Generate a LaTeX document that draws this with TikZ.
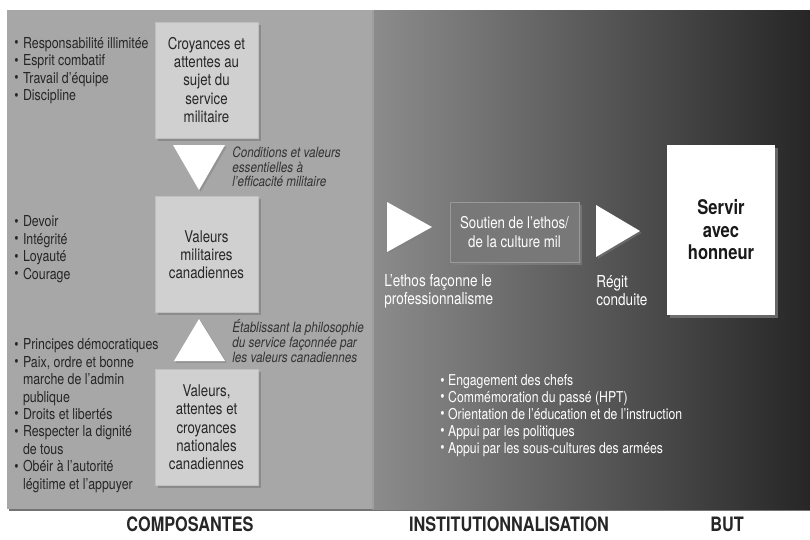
\documentclass[tikz,border=0pt]{standalone}
\usepackage{fontspec}
\setmainfont{TeX Gyre Heros}[FakeStretch=0.82]
\usetikzlibrary{positioning,shadows}

\definecolor{panelgris}{HTML}{A7A7A7}
\definecolor{boitegris}{HTML}{D0D0D0}
\definecolor{soutiengris}{HTML}{787878}
\definecolor{moyengris}{HTML}{8C8C8C}
\definecolor{foncegris}{HTML}{262626}

\newcommand\puce{\raisebox{0.3pt}{\fontsize{8.5}{8.5}\selectfont\textbullet}}

\tikzset{
    boite/.style={draw=white!75!black, fill=boitegris, minimum width=2.06cm, minimum height=2.32cm,
        inner sep=1pt, align=center, text=black!85, font=\fontsize{9.2}{10.4}\selectfont,
        drop shadow={shadow xshift=1.5pt, shadow yshift=-1.5pt, opacity=0.7}},
    puces/.style={anchor=west, inner sep=0pt, align=left, text=black!85, font=\fontsize{8.6}{9.9}\selectfont},
    note/.style={anchor=west, inner sep=0pt, align=left, text=black!80, font=\fontsize{8.1}{8.3}\selectfont\itshape},
    blanc/.style={anchor=west, inner sep=0pt, align=left, text=white, font=\fontsize{9.4}{10.2}\selectfont},
    fleche/.style={fill=white, drop shadow={shadow xshift=1pt, shadow yshift=-1pt, opacity=0.5}},
    titre/.style={font=\fontsize{11.3}{13}\selectfont\bfseries, text=black!85}
}

\begin{document}
\begin{tikzpicture}[x=0.02cm, y=-0.02cm]
                \useasboundingbox (0,0) rectangle (810,539);

                % panneaux
                \fill[black!55] (9,12) rectangle (810,511);
                \fill[panelgris] (7,10) rectangle (372,509);
                \shade[left color=moyengris, right color=foncegris] (372,10) rectangle (810,509);
                \fill[black!30, opacity=0.5] (372,10) rectangle (374,509);

                % composantes
                \node[boite] (croyances) at (206.5,80) {Croyances et\\attentes au\\sujet du\\service\\militaire};
                \node[boite, below=1.16cm of croyances] (valeurs) {Valeurs\\militaires\\canadiennes};
                \node[boite, below=1.12cm of valeurs] (nationales) {Valeurs,\\attentes et\\croyances\\nationales\\canadiennes};

                \fill[fleche] (173,145) -- (225,145) -- (199,190) -- cycle;
                \fill[fleche] (174,361) -- (225,361) -- (199,319) -- cycle;

                \node[note] (conditions) at (232,167) {Conditions et valeurs\\essentielles à\\l'efficacité militaire};
                \node[note] (etablissant) at (232,341) {Établissant la philosophie\\du service façonnée par\\les valeurs canadiennes};

                \node[puces] (puces1) at (14,71) {\begin{tabular}{@{}l@{\hspace{2.5pt}}l@{}}
                    \puce & Responsabilité illimitée\\
                    \puce & Esprit combatif\\
                    \puce & Travail d'équipe\\
                    \puce & Discipline
                \end{tabular}};
                \node[puces] (puces2) at (14,249.5) {\begin{tabular}{@{}l@{\hspace{2.5pt}}l@{}}
                    \puce & Devoir\\
                    \puce & Intégrité\\
                    \puce & Loyauté\\
                    \puce & Courage
                \end{tabular}};
                \node[puces] (puces3) at (14,416) {\begin{tabular}{@{}l@{\hspace{2.5pt}}l@{}}
                    \puce & Principes démocratiques\\
                    \puce & Paix, ordre et bonne\\
                          & marche de l'admin\\
                          & publique\\
                    \puce & Droits et libertés\\
                    \puce & Respecter la dignité\\
                          & de tous\\
                    \puce & Obéir à l'autorité\\
                          & légitime et l'appuyer
                \end{tabular}};

                % institutionnalisation
                \fill[fleche] (387,202) -- (432,227) -- (387,252) -- cycle;
                \node[draw=white!60!black, fill=soutiengris, minimum width=2.58cm, minimum height=1.2cm,
                    align=center, text=white, font=\fontsize{9.2}{10.4}\selectfont,
                    drop shadow={shadow xshift=1.5pt, shadow yshift=-1.5pt, opacity=0.7}]
                    (soutien) at (514.5,232) {Soutien de l'ethos/\\de la culture mil};
                \fill[fleche] (596,205) -- (640,231) -- (596,257) -- cycle;

                \node[blanc] (ethos) at (384,291) {L'ethos façonne le\\professionnalisme};
                \node[blanc] (regit) at (596,291) {Régit\\conduite};

                \node[puces, text=white, font=\fontsize{8.5}{9.6}\selectfont] (puces4) at (440,416) {\begin{tabular}{@{}l@{\hspace{2pt}}l@{}}
                    \puce & Engagement des chefs\\
                    \puce & Commémoration du passé (HPT)\\
                    \puce & Orientation de l'éducation et de l'instruction\\
                    \puce & Appui par les politiques\\
                    \puce & Appui par les sous-cultures des armées
                \end{tabular}};

                % but
                \node[fill=white, minimum width=2.16cm, minimum height=3.4cm, align=center,
                    font=\fontsize{11.5}{12.8}\selectfont\bfseries, text=black!90,
                    drop shadow={shadow xshift=1.5pt, shadow yshift=-1.5pt, opacity=0.7}]
                    (servir) at (721,230) {Servir\\avec\\honneur};

                % titres
                \node[titre] (composantes) at (190,524) {COMPOSANTES};
                \node[titre] (institution) at (509,524) {INSTITUTIONNALISATION};
                \node[titre] (butlabel) at (727,524) {BUT};
            \end{tikzpicture}
\end{document}
